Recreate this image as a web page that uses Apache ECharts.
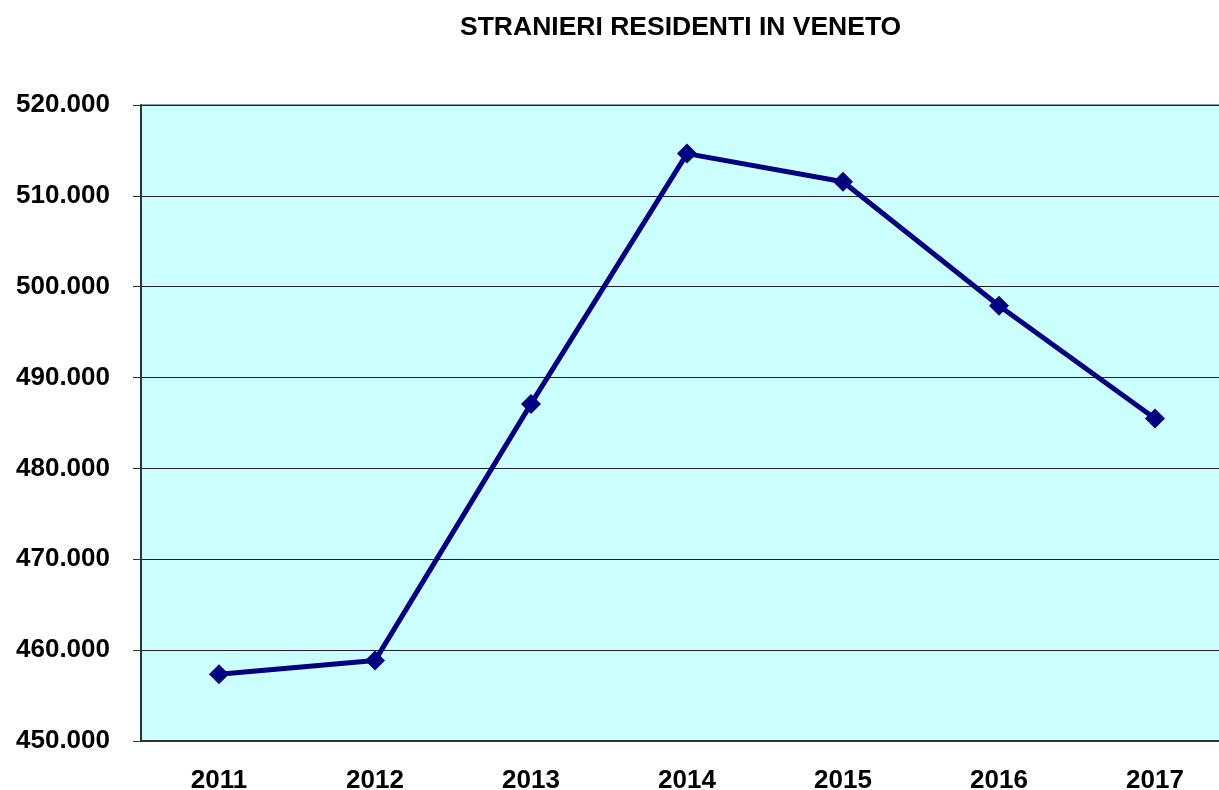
<!DOCTYPE html>
<html>
<head>
<meta charset="utf-8">
<script src="https://cdn.jsdelivr.net/npm/echarts@6/dist/echarts.min.js"></script>
<style>
  html, body { margin: 0; padding: 0; overflow: hidden; background: #fff; }
  #chart { width: 1240px; height: 790px; }
</style>
</head>
<body>
<div id="chart"></div>
<script>
// anni
var anni = ['2011', '2012', '2013', '2014', '2015', '2016', '2017'];
// stranieri residenti
var residenti = [457350, 458850, 487100, 514650, 511550, 497900, 485500];
// scala asse y
var yMin = 450000;
var yMax = 520000;
var yStep = 10000;

var chart = echarts.init(document.getElementById('chart'));

function fmtMigliaia(v) {
  return String(v).replace(/\B(?=(\d{3})+(?!\d))/g, '.');
}

var option = {
  animation: false,
  title: {
    text: 'STRANIERI RESIDENTI IN VENETO',
    left: 455,
    top: 9,
    textStyle: {
      fontFamily: 'Liberation Sans, Arial',
      fontSize: 26.5,
      fontWeight: 'bold',
      color: '#000'
    }
  },
  grid: {
    left: 141,
    right: 7,
    top: 105,
    bottom: 49,
    outerBoundsMode: 'none',
    containLabel: false,
    show: true,
    backgroundColor: '#CCFFFF',
    borderColor: '#999',
    borderWidth: 2
  },
  xAxis: {
    type: 'category',
    data: anni,
    boundaryGap: true,
    axisLine: { lineStyle: { color: '#333', width: 2 } },
    axisTick: { length: 8, lineStyle: { color: '#333', width: 1 } },
    axisLabel: {
      margin: 27,
      fontFamily: 'Liberation Sans, Arial',
      fontSize: 26,
      fontWeight: 'bold',
      color: '#000'
    }
  },
  yAxis: {
    type: 'value',
    min: yMin,
    max: yMax,
    interval: yStep,
    axisLine: { show: true, lineStyle: { color: '#333', width: 2 } },
    axisTick: { show: true, length: 8, lineStyle: { color: '#333', width: 1 } },
    splitLine: { lineStyle: { color: '#222', width: 1 } },
    axisLabel: {
      margin: 31,
      fontFamily: 'Liberation Sans, Arial',
      fontSize: 26,
      fontWeight: 'bold',
      color: '#000',
      formatter: fmtMigliaia
    }
  },
  series: [
    {
      type: 'line',
      data: residenti,
      symbol: 'diamond',
      symbolSize: [20, 20],
      lineStyle: { color: '#000080', width: 5 },
      itemStyle: { color: '#000080' }
    }
  ]
};

chart.setOption(option);
</script>
</body>
</html>
